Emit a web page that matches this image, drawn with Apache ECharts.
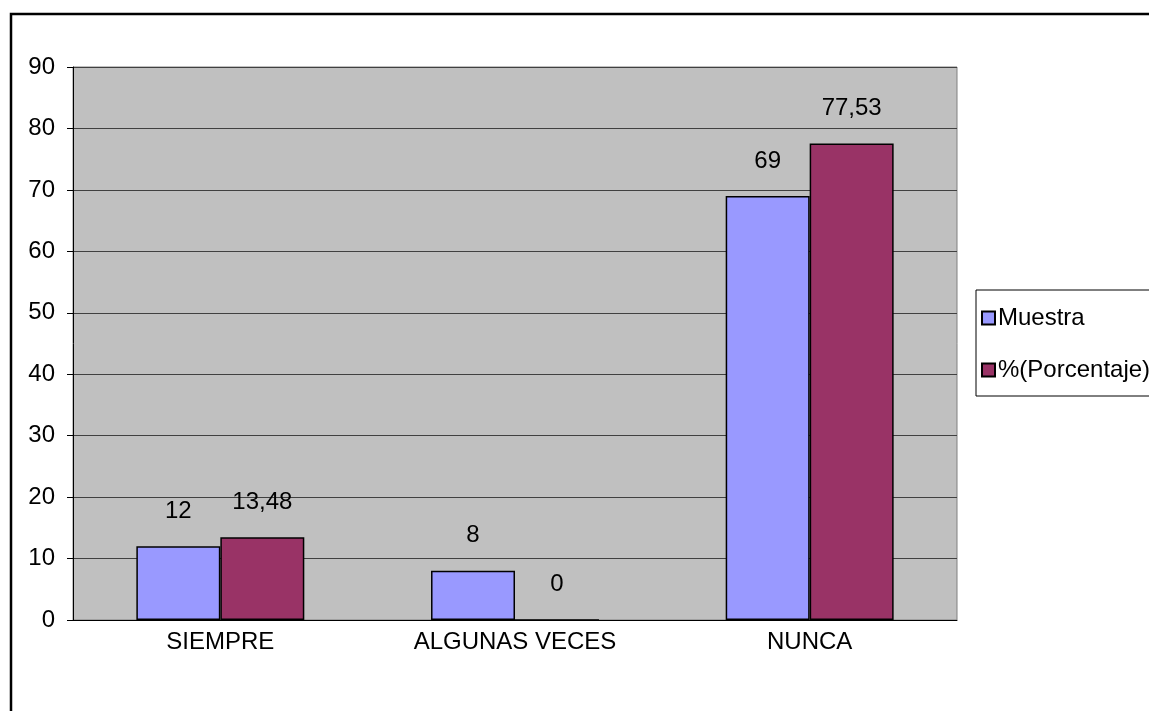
<!DOCTYPE html>
<html>
<head>
<meta charset="utf-8">
<script src="https://cdn.jsdelivr.net/npm/echarts@6/dist/echarts.min.js"></script>
<style>
  html, body { margin: 0; padding: 0; background: #fff; }
  #chart { width: 1149px; height: 711px; }
</style>
</head>
<body>
<div id="chart"></div>
<script>
const categories = ['SIEMPRE', 'ALGUNAS VECES', 'NUNCA']
const muestra = [12, 8, 69]
const porcentaje = [13.48, 0, 77.53]
const seriesNames = ['Muestra', '%(Porcentaje)']

const font = '"Liberation Sans Narrow", "Liberation Sans", Arial, sans-serif'
const fmt = p => String(p.value).replace('.', ',')

const chart = echarts.init(document.getElementById('chart'))

const option = {
  animation: false,
  textStyle: { fontFamily: font, color: '#000' },
  graphic: [{
    type: 'rect',
    shape: { x: 11, y: 14, width: 1200, height: 800 },
    style: { fill: 'none', stroke: '#000', lineWidth: 2.5 },
    z: 100
  }],
  grid: {
    left: 73, right: 192, top: 67, bottom: 91,
    show: true,
    backgroundColor: '#c0c0c0',
    borderColor: '#808080',
    borderWidth: 1
  },
  legend: {
    left: 976, top: 290,
    orient: 'vertical',
    data: seriesNames,
    icon: 'rect',
    itemWidth: 13, itemHeight: 13,
    itemGap: 28,
    padding: [16, 10, 14, 5],
    borderColor: '#000',
    borderWidth: 1,
    textStyle: { fontFamily: font, fontSize: 24, color: '#000', padding: [0, 0, 0, -2] }
  },
  xAxis: {
    type: 'category',
    data: categories,
    axisLine: { lineStyle: { color: '#000', width: 1 } },
    axisTick: { length: 8, lineStyle: { color: '#000' } },
    axisLabel: { fontFamily: font, fontSize: 24, color: '#000', margin: 10 }
  },
  yAxis: {
    type: 'value',
    min: 0, max: 90, interval: 10,
    axisLine: { show: true, lineStyle: { color: '#000', width: 1 } },
    axisTick: { show: true, length: 6, lineStyle: { color: '#000' } },
    axisLabel: { fontFamily: font, fontSize: 24, color: '#000', margin: 18 },
    splitLine: { lineStyle: { color: '#404040', width: 1 } }
  },
  series: [
    {
      name: seriesNames[0],
      type: 'bar',
      data: muestra,
      barGap: '0%',
      barCategoryGap: '43%',
      itemStyle: { color: '#9999ff', borderColor: '#000', borderWidth: 1.5 },
      label: { show: true, position: 'top', distance: 23, fontFamily: font, fontSize: 24, color: '#000', formatter: fmt }
    },
    {
      name: seriesNames[1],
      type: 'bar',
      data: porcentaje,
      itemStyle: { color: '#993366', borderColor: '#000', borderWidth: 1.5 },
      label: { show: true, position: 'top', distance: 23, fontFamily: font, fontSize: 24, color: '#000', formatter: fmt }
    }
  ]
}

chart.setOption(option)
</script>
</body>
</html>
